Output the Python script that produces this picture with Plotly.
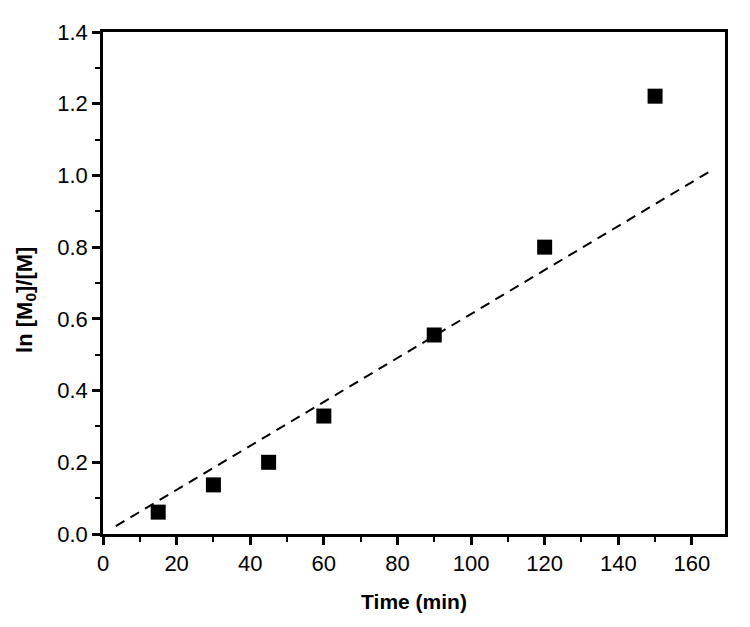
import plotly.graph_objects as go

time_min = [15, 30, 45, 60, 90, 120, 150]
ln_ratio = [0.061, 0.137, 0.200, 0.329, 0.555, 0.800, 1.221]

fit_x = [3.5, 165]
fit_y = [0.022, 1.012]

fig = go.Figure()
fig.add_trace(go.Scatter(x=fit_x, y=fit_y, mode="lines",
                         line=dict(color="black", width=2, dash="10px,7px"),
                         showlegend=False))
fig.add_trace(go.Scatter(x=time_min, y=ln_ratio, mode="markers",
                         marker=dict(symbol="square", size=15, color="black"),
                         showlegend=False))

font = dict(family="Liberation Sans, Arial, sans-serif", color="black")
fig.update_layout(
    width=750, height=627,
    margin=dict(l=103, r=25, t=32, b=93, autoexpand=False),
    plot_bgcolor="white", paper_bgcolor="white",
    font=font,
    xaxis=dict(range=[0, 169], tickvals=[0, 20, 40, 60, 80, 100, 120, 140, 160],
               automargin=False,
               showgrid=False, zeroline=False, showline=True, linecolor="black",
               linewidth=2.5, mirror=True, ticks="outside", ticklen=8, tickwidth=2.5,
               tickcolor="black", tickfont=dict(size=22, **font),
               minor=dict(ticks="outside", ticklen=5, tickwidth=2, tickcolor="black", dtick=10, tick0=0),
               title=dict(text="<b>Time (min)</b>", font=dict(size=21, **font), standoff=20)),
    yaxis=dict(range=[0, 1.4], tickvals=[0, 0.2, 0.4, 0.6, 0.8, 1.0, 1.2, 1.4],
               tickformat=".1f", automargin=False,
               showgrid=False, zeroline=False, showline=True, linecolor="black",
               linewidth=2.5, mirror=True, ticks="outside", ticklen=8, tickwidth=2.5,
               tickcolor="black", tickfont=dict(size=22, **font),
               minor=dict(ticks="outside", ticklen=5, tickwidth=2, tickcolor="black", dtick=0.1, tick0=0)),
    annotations=[dict(text="<b>ln [M<sub>0</sub>]/[M]</b>", textangle=-90,
                      xref="paper", yref="paper", x=-0.124, y=0.466,
                      xanchor="center", yanchor="middle", showarrow=False,
                      font=dict(size=22, **font))],
)

fig.write_html("out.html", config={"displayModeBar": False},
               post_script="document.body.style.margin='0';document.body.style.overflow='hidden';")
